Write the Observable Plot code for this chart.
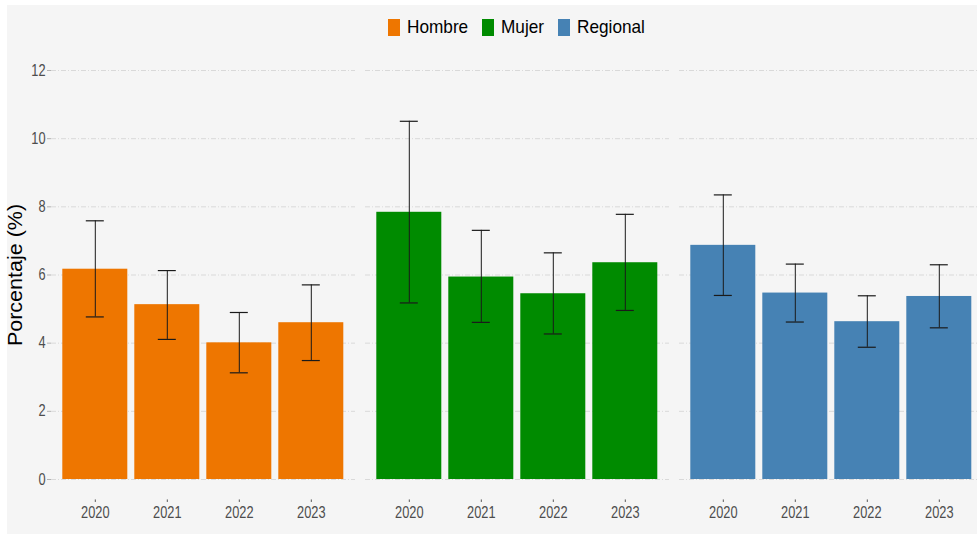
<!DOCTYPE html>
<html>
<head>
<meta charset="utf-8">
<script src="https://cdn.jsdelivr.net/npm/d3@7"></script>
<script src="https://cdn.jsdelivr.net/npm/@observablehq/plot@0.6"></script>
<style>
  html, body { margin: 0; padding: 0; background: #ffffff; }
  #wrap { position: relative; width: 977px; height: 534px; overflow: hidden; }
  #bg { position: absolute; left: 7px; top: 5px; right: 0; bottom: 0; background: #f5f5f5; }
  #chart { position: absolute; left: 0; top: 0; }
  #legend { position: absolute; top: 16px; left: 0; width: 1033px; display: flex; justify-content: center; align-items: center;
            font-family: 'Liberation Sans', Arial, sans-serif; font-size: 18.5px; color: #000; }
  #legend .item { display: flex; align-items: center; margin: 0 7px; }
  #legend .sw { width: 12px; height: 17px; margin-right: 7px; }
  #legend .tx { display: inline-block; transform-origin: 0 50%; }
  #ytitle { position: absolute; left: 16px; top: 275px; transform: translate(-50%, -50%) rotate(-90deg) scaleY(0.9); white-space: nowrap;
            font-family: 'Liberation Sans', Arial, sans-serif; font-size: 21.5px; color: #000; }
</style>
</head>
<body>
<div id="wrap">
  <div id="bg"></div>
  <div id="chart"></div>
  <div id="legend"></div>
  <div id="ytitle">Porcentaje (%)</div>
</div>
<script>
// ---- data ----
const groups = ["Hombre", "Mujer", "Regional"];
const years = ["2020", "2021", "2022", "2023"];
const colors = ["#EE7600", "#008B00", "#4682B4"];
const yTicks = [0, 2, 4, 6, 8, 10, 12];

const hombreValue = [6.17, 5.13, 4.01, 4.60];
const hombreLow   = [4.77, 4.11, 3.13, 3.49];
const hombreHigh  = [7.59, 6.13, 4.90, 5.71];

const mujerValue = [7.84, 5.94, 5.45, 6.36];
const mujerLow   = [5.18, 4.61, 4.27, 4.96];
const mujerHigh  = [10.51, 7.31, 6.65, 7.78];

const regionalValue = [6.87, 5.47, 4.63, 5.37];
const regionalLow   = [5.40, 4.62, 3.88, 4.45];
const regionalHigh  = [8.35, 6.32, 5.39, 6.30];

const series = {
  Hombre:   {value: hombreValue,   lo: hombreLow,   hi: hombreHigh},
  Mujer:    {value: mujerValue,    lo: mujerLow,    hi: mujerHigh},
  Regional: {value: regionalValue, lo: regionalLow, hi: regionalHigh}
};
const data = [];
for (const g of groups) {
  years.forEach((yr, i) => {
    data.push({group: g, year: yr, value: series[g].value[i], lo: series[g].lo[i], hi: series[g].hi[i]});
  });
}

// ---- legend ----
const legend = document.getElementById("legend");
groups.forEach((g, i) => {
  const it = document.createElement("div");
  it.className = "item";
  const sw = document.createElement("div");
  sw.className = "sw";
  sw.style.background = colors[i];
  const tx = document.createElement("span");
  tx.className = "tx";
  tx.textContent = g;
  it.appendChild(sw); it.appendChild(tx);
  legend.appendChild(it);
});
// condense legend labels horizontally (reference uses a narrow face)
document.querySelectorAll("#legend .tx").forEach(s => {
  const w = s.getBoundingClientRect().width;
  s.style.transform = "scaleX(0.93)";
  s.style.marginRight = (-(w * 0.07)) + "px";
});

// ---- chart ----
const capInset = 23.5;
const chart = Plot.plot({
  width: 977,
  height: 534,
  marginLeft: 50.7,
  marginRight: -6,
  marginTop: 49.55,
  marginBottom: 34.55,
  style: {
    background: "transparent",
    fontFamily: "'Liberation Sans', Arial, sans-serif",
    fontSize: "16px",
    color: "#4d4d4d",
    overflow: "visible"
  },
  fx: {domain: groups, axis: null, paddingInner: 0.0334, paddingOuter: 0},
  x: {domain: years, paddingInner: 0.1, paddingOuter: 0.15, label: null},
  y: {domain: [-0.6, 12.6], label: null},
  color: {domain: groups, range: colors},
  marks: [
    Plot.gridY(yTicks, {stroke: "#d9d9d9", strokeOpacity: 1, strokeWidth: 1, strokeDasharray: "5,2,1,2"}),
    Plot.barY(data, {fx: "group", x: "year", y1: 0, y2: "value", fill: "group"}),
    Plot.ruleX(data, {fx: "group", x: "year", y1: "lo", y2: "hi", stroke: "#1a1a1a", strokeWidth: 1}),
    Plot.tickY(data, {fx: "group", x: "year", y: "hi", stroke: "#1a1a1a", strokeWidth: 1.2, insetLeft: capInset, insetRight: capInset}),
    Plot.tickY(data, {fx: "group", x: "year", y: "lo", stroke: "#1a1a1a", strokeWidth: 1.2, insetLeft: capInset, insetRight: capInset}),
    Plot.axisY(yTicks, {tickSize: 4, tickPadding: 2, stroke: "#b3b3b3", fill: "#4d4d4d", label: null, fontSize: 16}),
    Plot.axisX({tickSize: 2.5, tickPadding: 4, stroke: "#555555", fill: "#4d4d4d", label: null, fontSize: 16})
  ]
});
document.getElementById("chart").appendChild(chart);

// condense tick labels horizontally, keeping their anchors
chart.querySelectorAll('g[aria-label$="tick label"] text').forEach(t => {
  let tr = t.getAttribute("transform") || "";
  const x = t.getAttribute("x");
  if (x != null && x !== "" && !isNaN(+x)) {
    tr += ` translate(${+x},0)`;
    t.removeAttribute("x");
  }
  t.setAttribute("transform", (tr + " scale(0.8,1)").trim());
});
</script>
</body>
</html>
